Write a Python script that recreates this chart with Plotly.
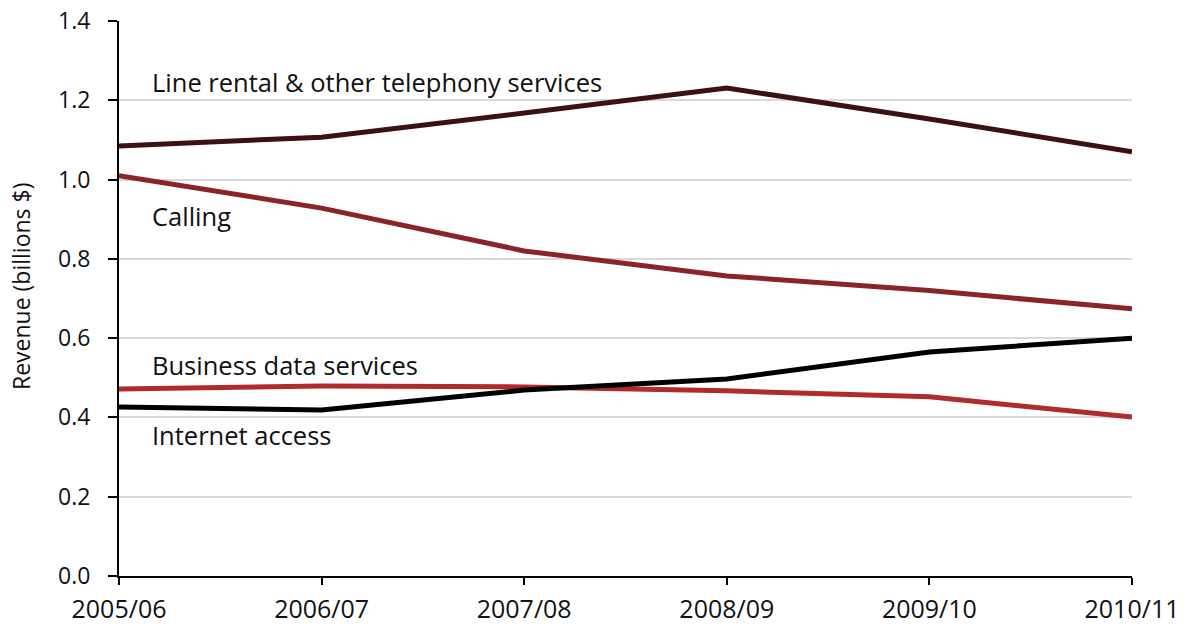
import plotly.graph_objects as go

years = ["2005/06", "2006/07", "2007/08", "2008/09", "2009/10", "2010/11"]

line_rental = [1.085, 1.107, 1.168, 1.231, 1.153, 1.070]
calling = [1.010, 0.928, 0.820, 0.757, 0.720, 0.674]
business_data = [0.472, 0.479, 0.477, 0.467, 0.452, 0.401]
internet_access = [0.426, 0.419, 0.469, 0.497, 0.565, 0.600]

series = [
    ("Line rental & other telephony services", line_rental, "#3e1012", 1.246),
    ("Calling", calling, "#8b2426", 0.908),
    ("Business data services", business_data, "#b22b2b", 0.532),
    ("Internet access", internet_access, "#000000", 0.356),
]

y_ticks = [0.0, 0.2, 0.4, 0.6, 0.8, 1.0, 1.2, 1.4]

FONT = "Open Sans"

fig = go.Figure()
for name, vals, color, label_y in series:
    fig.add_trace(go.Scatter(
        x=list(range(len(years))), y=vals, mode="lines", name=name,
        line=dict(color=color, width=5), showlegend=False,
    ))
    fig.add_annotation(
        x=0.155, y=label_y, text=name, showarrow=False,
        xanchor="left", yanchor="middle",
        font=dict(family=FONT, size=25.5, color="#111111"),
    )

# rotated y-axis title, placed in paper coordinates
fig.add_annotation(
    xref="paper", yref="paper", x=-0.096, y=0.522,
    text="Revenue (billions $)", textangle=-90, showarrow=False,
    xanchor="center", yanchor="middle",
    font=dict(family=FONT, size=23, color="#111111"),
)

fig.update_layout(
    width=1189, height=626,
    margin=dict(l=119, r=57, t=21, b=50),
    paper_bgcolor="white", plot_bgcolor="white",
    xaxis=dict(
        range=[0, 5], tickmode="array",
        tickvals=list(range(len(years))), ticktext=years,
        showline=True, linecolor="black", linewidth=2,
        ticks="outside", ticklen=7, tickwidth=2, tickcolor="black",
        ticklabelstandoff=3, automargin=False,
        showgrid=False, zeroline=False,
        tickfont=dict(family=FONT, size=25, color="#111111"),
    ),
    yaxis=dict(
        range=[0, 1.4], tickmode="array", tickvals=y_ticks,
        ticktext=[f"{v:.1f}" for v in y_ticks],
        showline=True, linecolor="black", linewidth=2,
        ticks="outside", ticklen=9, tickwidth=2, tickcolor="black",
        ticklabelstandoff=13, automargin=False,
        showgrid=True, gridcolor="#d9d9d9", gridwidth=1.5,
        zeroline=False,
        tickfont=dict(family=FONT, size=23, color="#111111"),
    ),
)

fig.write_html("out.html")
